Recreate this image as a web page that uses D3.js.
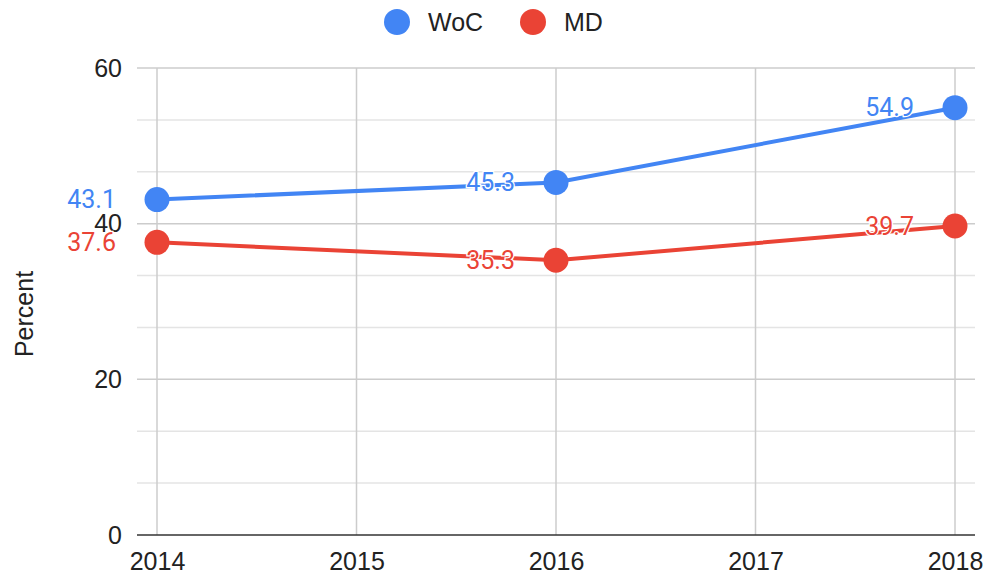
<!DOCTYPE html>
<html>
<head>
<meta charset="utf-8">
<script src="https://cdn.jsdelivr.net/npm/d3@7"></script>
<style>
  body { margin: 0; background: #fff; }
  svg { display: block; }
  .tick text { font-family: "Liberation Sans", Arial, sans-serif; font-size: 25px; fill: #222; }
</style>
</head>
<body>
<div id="chart"></div>
<script>
// chart data
var years = [2014, 2016, 2018];
var wocValues = [43.1, 45.3, 54.9];
var mdValues = [37.6, 35.3, 39.7];
var seriesNames = ["WoC", "MD"];
var xTicks = [2014, 2015, 2016, 2017, 2018];
var yTicks = [0, 20, 40, 60];

var svgWidth = 990;
var svgHeight = 578;

var colors = { WoC: "#4285f4", MD: "#ea4335" };

var svg = d3.select("#chart")
  .append("svg")
  .attr("width", svgWidth)
  .attr("height", svgHeight);

// plot area edges
var plotLeft = 137, plotRight = 975;
var x = d3.scaleLinear().domain([2014, 2018]).range([157, 955]);
var y = d3.scaleLinear().domain([0, 60]).range([535, 68]);

// minor gridlines (each 20 split in three)
var minor = [];
yTicks.slice(0, -1).forEach(function(t) {
  minor.push(t + 20 / 3, t + 40 / 3);
});

svg.append("g").selectAll("line")
  .data(minor)
  .enter().append("line")
  .attr("x1", plotLeft).attr("x2", plotRight)
  .attr("y1", d => y(d)).attr("y2", d => y(d))
  .attr("stroke", "#e4e4e4")
  .attr("stroke-width", 1.5);

svg.append("g").selectAll("line")
  .data(yTicks.slice(1))
  .enter().append("line")
  .attr("x1", plotLeft).attr("x2", plotRight)
  .attr("y1", d => y(d)).attr("y2", d => y(d))
  .attr("stroke", "#cccccc")
  .attr("stroke-width", 1.5);

svg.append("g").selectAll("line")
  .data(xTicks)
  .enter().append("line")
  .attr("x1", d => x(d)).attr("x2", d => x(d))
  .attr("y1", y(60)).attr("y2", y(0))
  .attr("stroke", "#cccccc")
  .attr("stroke-width", 1.5);

// baseline
svg.append("line")
  .attr("x1", plotLeft).attr("x2", plotRight)
  .attr("y1", y(0)).attr("y2", y(0))
  .attr("stroke", "#333")
  .attr("stroke-width", 1.5);

// axes (labels only)
var leftAxis = d3.axisLeft(y).tickValues(yTicks).tickSize(0).tickPadding(15);
var bottomAxis = d3.axisBottom(x).tickValues(xTicks).tickSize(0).tickPadding(17).tickFormat(d3.format("d"));

svg.append("g")
  .attr("transform", `translate(${plotLeft},0)`)
  .call(leftAxis)
  .call(g => g.select(".domain").remove());

svg.append("g")
  .attr("transform", `translate(0,${y(0)})`)
  .call(bottomAxis)
  .call(g => g.select(".domain").remove());

// axis title
svg.append("text")
  .attr("transform", "translate(33,314) rotate(-90)")
  .attr("text-anchor", "middle")
  .style("font-family", "'Liberation Sans', Arial, sans-serif")
  .style("font-size", "25px")
  .attr("fill", "#222")
  .text("Percent");

var series = [
  { name: "WoC", values: wocValues },
  { name: "MD", values: mdValues }
];

var line = d3.line()
  .x((d, i) => x(years[i]))
  .y(d => y(d));

series.forEach(function(s) {
  var g = svg.append("g");
  g.append("path")
    .datum(s.values)
    .attr("d", line)
    .attr("fill", "none")
    .attr("stroke", colors[s.name])
    .attr("stroke-width", 4);

  g.selectAll("circle")
    .data(s.values)
    .enter().append("circle")
    .attr("cx", (d, i) => x(years[i]))
    .attr("cy", d => y(d))
    .attr("r", 12.5)
    .attr("fill", colors[s.name]);

  g.selectAll("text")
    .data(s.values)
    .enter().append("text")
    .attr("x", (d, i) => x(years[i]) - 41)
    .attr("y", d => y(d))
    .attr("dy", "0.35em")
    .attr("text-anchor", "end")
    .style("font-family", "Roboto, 'Liberation Sans', sans-serif")
    .style("font-size", "25px")
    .style("paint-order", "stroke")
    .attr("stroke", "#fff")
    .attr("stroke-width", 2.5)
    .attr("fill", colors[s.name])
    .text(d => d.toFixed(1));
});

// legend
var legendX = [397, 533];
var legend = svg.append("g").selectAll("g")
  .data(seriesNames)
  .enter().append("g")
  .attr("transform", (d, i) => `translate(${legendX[i]},22)`);

legend.append("circle")
  .attr("r", 13)
  .attr("fill", d => colors[d]);

legend.append("text")
  .attr("x", 31)
  .attr("dy", "0.35em")
  .style("font-family", "'Liberation Sans', Arial, sans-serif")
  .style("font-size", "25px")
  .attr("fill", "#222")
  .text(d => d);
</script>
</body>
</html>
